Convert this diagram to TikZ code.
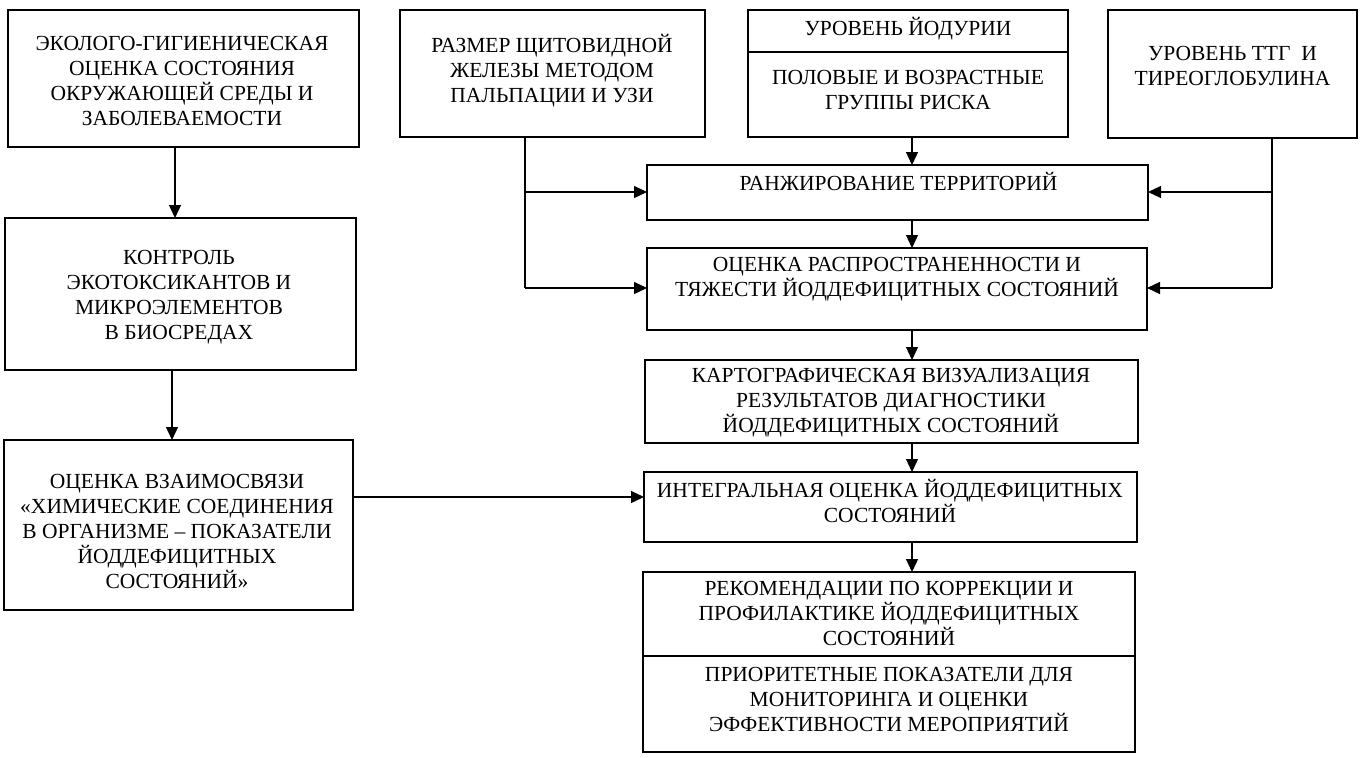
\documentclass[tikz,border=0pt]{standalone}
\usepackage{fontspec}
\setmainfont{Liberation Serif}
\usetikzlibrary{arrows.meta}
\newcommand\bx[5]{\node[box, minimum width={(#4)-(#2)}, minimum height={(#5)-(#3)}] (#1) at ({((#2)+(#4))/2},{((#3)+(#5))/2}) {};}
\tikzset{
  box/.style={draw, line width=1.6pt, inner sep=0pt, outer sep=0pt},
  lbl/.style={align=center, inner sep=0pt, yshift=-3.5pt, font=\fontsize{21.5}{25}\selectfont,
    execute at begin node=\strut, execute at end node=\strut},
  arr/.style={line width=1.3pt, -{Triangle[length=13pt,width=12pt]}},
  ln/.style={line width=1.3pt}
}
\begin{document}
\begin{tikzpicture}[x=1pt,y=-1pt]
\useasboundingbox (0,0) rectangle (1364,757);
% boxes
\bx{A}{8}{10}{359}{147}
\bx{B}{5}{218}{356}{370}
\bx{C}{4}{440}{353}{610}
\bx{R}{400}{10}{705}{137}
\bx{U1}{748}{10}{1068}{52}
\bx{U2}{748}{52}{1068}{137}
\bx{T}{1108}{10}{1357}{138}
\bx{RK}{647}{165}{1148}{220}
\bx{OC}{647}{248}{1147}{330}
\bx{KA}{645}{360}{1138}{443}
\bx{IN}{644}{472}{1137}{542}
\bx{RE1}{643}{572}{1135}{656}
\bx{RE2}{643}{656}{1135}{752}
% labels
\node[lbl] (tA) at (182,81) {ЭКОЛОГО-ГИГИЕНИЧЕСКАЯ\\ОЦЕНКА СОСТОЯНИЯ\\ОКРУЖАЮЩЕЙ СРЕДЫ И\\ЗАБОЛЕВАЕМОСТИ};
\node[lbl] (tB) at (179,295) {КОНТРОЛЬ\\ЭКОТОКСИКАНТОВ И\\МИКРОЭЛЕМЕНТОВ\\В БИОСРЕДАХ};
\node[lbl] (tC) at (177,531.5) {ОЦЕНКА ВЗАИМОСВЯЗИ\\«ХИМИЧЕСКИЕ СОЕДИНЕНИЯ\\В ОРГАНИЗМЕ – ПОКАЗАТЕЛИ\\ЙОДДЕФИЦИТНЫХ\\СОСТОЯНИЙ»};
\node[lbl] (tR) at (552,68.5) {РАЗМЕР ЩИТОВИДНОЙ\\ЖЕЛЕЗЫ МЕТОДОМ\\ПАЛЬПАЦИИ И УЗИ};
\node[lbl] (tU1) at (908,26.5) {УРОВЕНЬ ЙОДУРИИ};
\node[lbl] (tU2) at (908,90) {ПОЛОВЫЕ И ВОЗРАСТНЫЕ\\ГРУППЫ РИСКА};
\node[lbl] (tT) at (1232.5,66) {УРОВЕНЬ ТТГ\ \ И\\ТИРЕОГЛОБУЛИНА};
\node[lbl] (tRK) at (898.5,181.5) {РАНЖИРОВАНИЕ ТЕРРИТОРИЙ};
\node[lbl] (tOC) at (897,277) {ОЦЕНКА РАСПРОСТРАНЕННОСТИ И\\ТЯЖЕСТИ ЙОДДЕФИЦИТНЫХ СОСТОЯНИЙ};
\node[lbl] (tKA) at (891,401) {КАРТОГРАФИЧЕСКАЯ ВИЗУАЛИЗАЦИЯ\\РЕЗУЛЬТАТОВ ДИАГНОСТИКИ\\ЙОДДЕФИЦИТНЫХ СОСТОЯНИЙ};
\node[lbl] (tIN) at (890,501) {ИНТЕГРАЛЬНАЯ ОЦЕНКА ЙОДДЕФИЦИТНЫХ\\СОСТОЯНИЙ};
\node[lbl] (tRE1) at (889,613.5) {РЕКОМЕНДАЦИИ ПО КОРРЕКЦИИ И\\ПРОФИЛАКТИКЕ ЙОДДЕФИЦИТНЫХ\\СОСТОЯНИЙ};
\node[lbl] (tRE2) at (889,699.5) {ПРИОРИТЕТНЫЕ ПОКАЗАТЕЛИ ДЛЯ\\МОНИТОРИНГА И ОЦЕНКИ\\ЭФФЕКТИВНОСТИ МЕРОПРИЯТИЙ};
% connector coordinates
\coordinate (xa) at (175,0);
\coordinate (xb) at (172,0);
\coordinate (xm) at (912,0);
\coordinate (xr) at (525,0);
\coordinate (xt) at (1272,0);
\coordinate (ya) at (0,192);
\coordinate (yb) at (0,288);
\coordinate (yc) at (0,497);
% connectors
\draw[arr] (A.south -| xa) -- (B.north -| xa);
\draw[arr] (B.south -| xb) -- (C.north -| xb);
\draw[arr] (C.east |- yc) -- (IN.west |- yc);
\draw[arr] (U2.south -| xm) -- (RK.north -| xm);
\draw[arr] (RK.south -| xm) -- (OC.north -| xm);
\draw[arr] (OC.south -| xm) -- (KA.north -| xm);
\draw[arr] (KA.south -| xm) -- (IN.north -| xm);
\draw[arr] (IN.south -| xm) -- (RE1.north -| xm);
\draw[ln] (R.south -| xr) -- (xr |- yb);
\draw[arr] (xr |- ya) -- (RK.west |- ya);
\draw[arr] (xr |- yb) -- (OC.west |- yb);
\draw[ln] (T.south -| xt) -- (xt |- yb);
\draw[arr] (xt |- ya) -- (RK.east |- ya);
\draw[arr] (xt |- yb) -- (OC.east |- yb);
\end{tikzpicture}
\end{document}
